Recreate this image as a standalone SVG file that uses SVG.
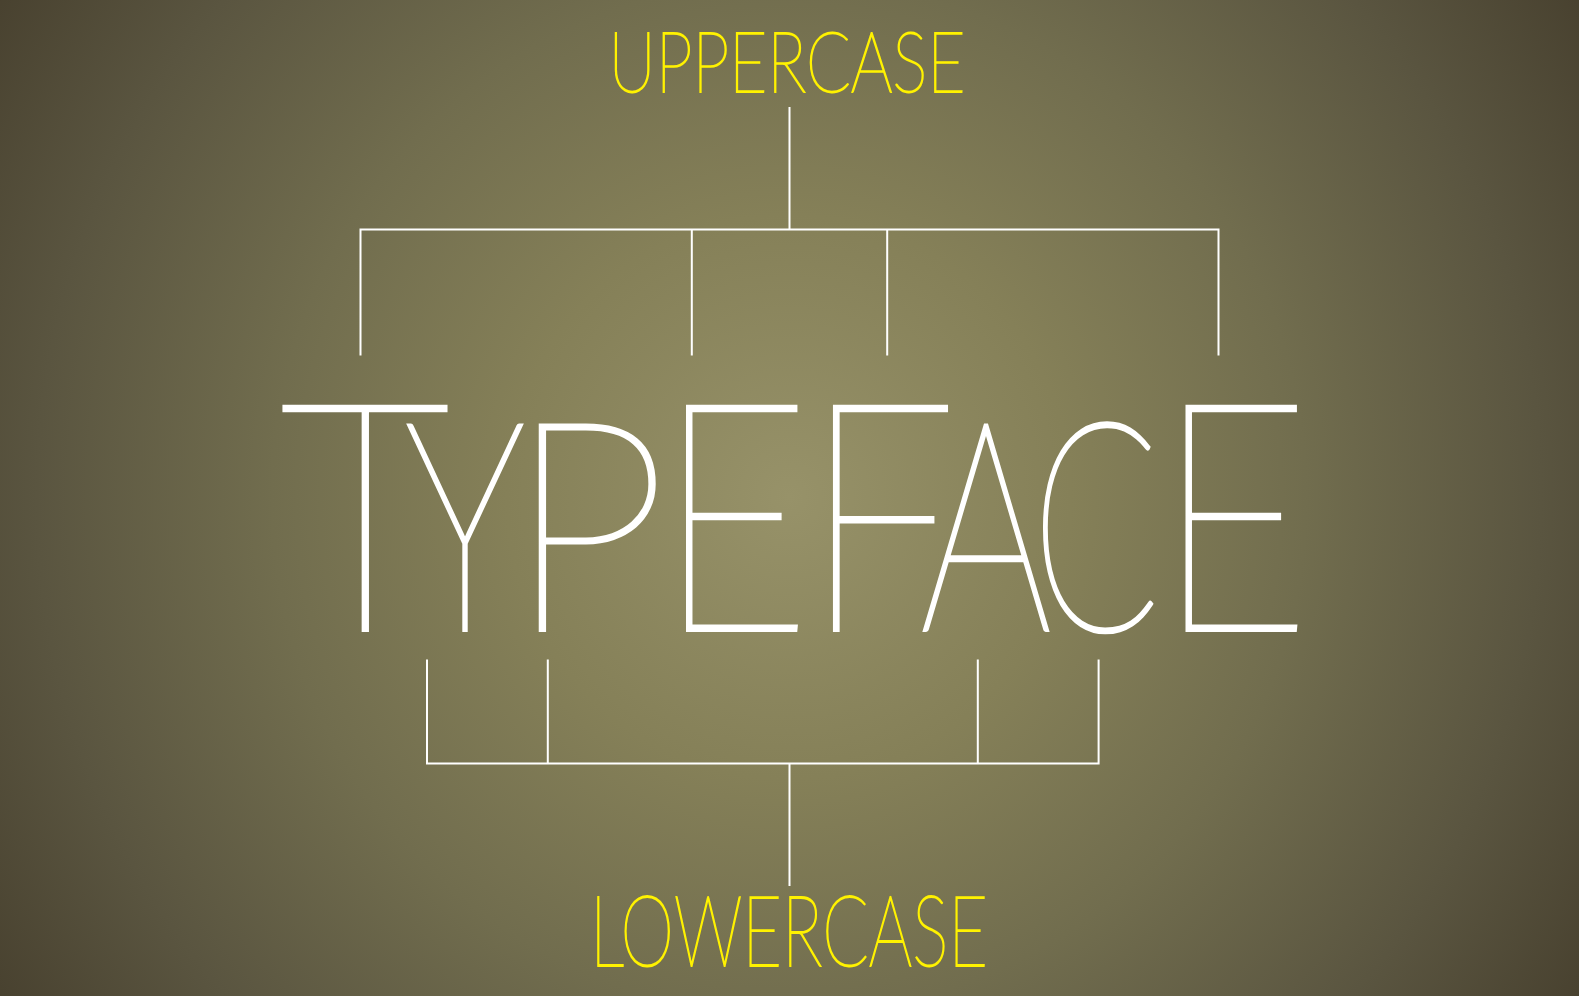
<svg xmlns="http://www.w3.org/2000/svg" width="1579" height="996" viewBox="0 0 1579 996">
<defs>
<radialGradient id="bg" gradientUnits="userSpaceOnUse" cx="789" cy="497" r="940">
<stop offset="0" stop-color="#979269"/>
<stop offset="0.3" stop-color="#858058"/>
<stop offset="0.55" stop-color="#716d4e"/>
<stop offset="0.8" stop-color="#5a5540"/>
<stop offset="1" stop-color="#48412f"/>
</radialGradient>
<style>
.big{font-family:"Lato","Liberation Sans",sans-serif;font-weight:100;fill:#ffffff;stroke:#ffffff;stroke-width:4;text-anchor:middle}
.lbl{font-family:"Lato","Liberation Sans",sans-serif;font-weight:100;fill:#fff200;stroke:#fff200;stroke-width:1.8;text-anchor:middle}
.con{stroke:#ffffff;stroke-width:2;fill:none}
</style>
</defs>
<rect width="1579" height="996" fill="url(#bg)"/>
<g id="connectors">
<path class="con" d="M789.5 107V229.6M360.5 355.5V229.6H1218.5V355.5M691.8 229.6V355.5M887.2 229.6V355.5"/>
<path class="con" d="M427 659.6V763.4H1098.6V659.6M547.8 659.6V763.4M977.8 659.6V763.4M789.5 763.4V886"/>
</g>
<g id="uppercase"><text class="lbl" x="787" y="92" font-size="84" textLength="357" lengthAdjust="spacingAndGlyphs">UPPERCASE</text></g>
<g id="lowercase"><text class="lbl" x="789" y="966" font-size="98" textLength="398" lengthAdjust="spacingAndGlyphs">LOWERCASE</text></g>
<g id="typeface">
<text class="big" x="365" y="630" font-size="319" textLength="170" lengthAdjust="spacingAndGlyphs">T</text>
<text class="big" x="465" y="630" font-size="292" textLength="120" lengthAdjust="spacingAndGlyphs">Y</text>
<text class="big" x="587.5" y="630" font-size="292" textLength="160" lengthAdjust="spacingAndGlyphs">P</text>
<text class="big" x="734" y="630" font-size="319" textLength="154" lengthAdjust="spacingAndGlyphs">E</text>
<text class="big" x="880" y="630" font-size="319" textLength="154" lengthAdjust="spacingAndGlyphs">F</text>
<text class="big" x="986" y="630" font-size="292" textLength="132" lengthAdjust="spacingAndGlyphs">A</text>
<text class="big" x="1095.5" y="630" font-size="292" textLength="128" lengthAdjust="spacingAndGlyphs">C</text>
<text class="big" x="1233.5" y="630" font-size="319" textLength="154" lengthAdjust="spacingAndGlyphs">E</text>
</g>
</svg>
